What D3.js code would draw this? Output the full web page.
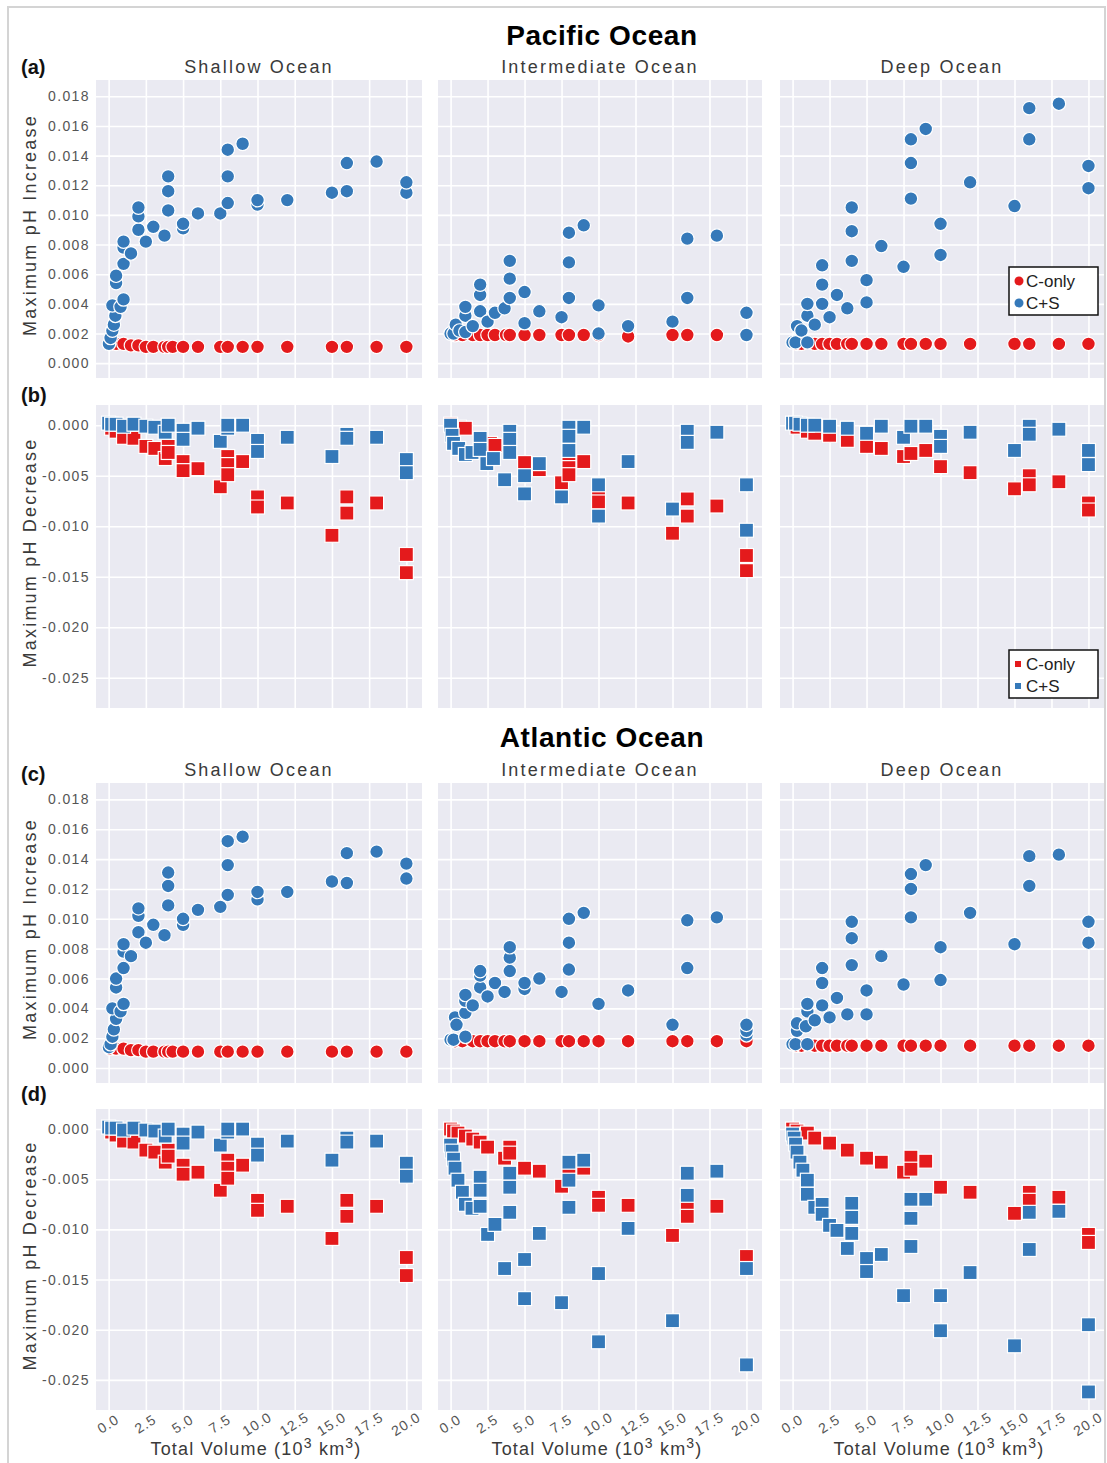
<!DOCTYPE html>
<html>
<head>
<meta charset="utf-8">
<script src="https://cdn.jsdelivr.net/npm/d3@7"></script>
<style>
  body { margin: 0; background: #fff; }
  text { font-family: "Liberation Sans", Arial, sans-serif; }
</style>
</head>
<body>
<svg id="chart" width="1107" height="1463"></svg>
<script>
// ---- data: [total volume (10^3 km^3), max pH change] ----
// Pacific, maximum pH increase
var pacShallowUpCS = [[0.02,0.0013],[0.13,0.0017],[0.25,0.0022],[0.35,0.0026],[0.45,0.0032],[0.25,0.0039],[0.8,0.0038],[1,0.0043],[0.5,0.0054],[0.5,0.0059],[1,0.0067],[1,0.0078],[1,0.0082],[1.5,0.0074],[2,0.0090],[2,0.0099],[2,0.0105],[2.5,0.0082],[3,0.0092],[3.75,0.0086],[4,0.0103],[4,0.0116],[4,0.0126],[5,0.0091],[5,0.0094],[6,0.0101],[7.5,0.0101],[8,0.0108],[8,0.0126],[8,0.0144],[9,0.0148],[10,0.0107],[10,0.0110],[12,0.0110],[15,0.0115],[16,0.0116],[16,0.0135],[18,0.0136],[20,0.0115],[20,0.0122]];
var pacShallowUpC = [[0.1,0.0013],[0.5,0.0013],[1,0.0013],[1.5,0.0012],[2,0.0012],[2.5,0.0011],[3,0.0011],[3.75,0.0011],[4,0.0011],[4.3,0.0011],[5,0.0011],[6,0.0011],[7.5,0.0011],[8,0.0011],[9,0.0011],[10,0.0011],[12,0.0011],[15,0.0011],[16,0.0011],[18,0.0011],[20,0.0011]];
var pacMidUpCS = [[0.0,0.0020],[0.2,0.0020],[0.35,0.0026],[0.6,0.0022],[1,0.0021],[1,0.0032],[1,0.0038],[1.5,0.0025],[2,0.0035],[2,0.0046],[2,0.0053],[2.5,0.0028],[3,0.0034],[3.65,0.0037],[4,0.0044],[4,0.0057],[4,0.0069],[5,0.0027],[5,0.0048],[6,0.0035],[7.5,0.0031],[8,0.0044],[8,0.0068],[8,0.0088],[9,0.0093],[10,0.0020],[10,0.0039],[12,0.0025],[15,0.0028],[16,0.0044],[16,0.0084],[18,0.0086],[20,0.0019],[20,0.0034]];
var pacMidUpC = [[0.3,0.0019],[0.8,0.0019],[1.5,0.0019],[2,0.0019],[2.5,0.0019],[3,0.0019],[3.75,0.0019],[4,0.0019],[5,0.0019],[6,0.0019],[7.5,0.0019],[8,0.0019],[9,0.0019],[10,0.0019],[12,0.0018],[15,0.0019],[16,0.0019],[18,0.0019],[20,0.0019]];
var pacDeepUpCS = [[0.0,0.0014],[0.2,0.0014],[0.3,0.0025],[0.6,0.0022],[1,0.0014],[1,0.0032],[1,0.0040],[1.5,0.0026],[2,0.0040],[2,0.0053],[2,0.0066],[2.5,0.0031],[3,0.0046],[3.7,0.0037],[4,0.0069],[4,0.0089],[4,0.0105],[5,0.0041],[5,0.0056],[6,0.0079],[7.5,0.0065],[8,0.0111],[8,0.0135],[8,0.0151],[9,0.0158],[10,0.0073],[10,0.0094],[12,0.0122],[15,0.0106],[16,0.0151],[16,0.0172],[18,0.0175],[20,0.0118],[20,0.0133]];
var pacDeepUpC = [[0.3,0.0013],[0.6,0.0013],[1.5,0.0013],[2,0.0013],[2.5,0.0013],[3,0.0013],[3.7,0.0013],[4,0.0013],[5,0.0013],[6,0.0013],[7.5,0.0013],[8,0.0013],[9,0.0013],[10,0.0013],[12,0.0013],[15,0.0013],[16,0.0013],[18,0.0013],[20,0.0013]];

// Pacific, maximum pH decrease
var pacShallowDownCS = [[0.0,0.0002],[0.2,0.0001],[0.5,0.0001],[1,-0.0001],[1.7,0.0001],[2.5,-0.0001],[3.1,-0.0002],[3.8,-0.0007],[4,0.0000],[5,-0.0005],[5,-0.0014],[6,-0.0003],[7.5,-0.0016],[8,-0.0003],[8,0.0000],[9,0.0000],[10,-0.0015],[10,-0.0026],[12,-0.0012],[15,-0.0031],[16,-0.0009],[16,-0.0013],[18,-0.0012],[20,-0.0034],[20,-0.0047]];
var pacShallowDownC = [[0.2,-0.0003],[0.5,-0.0006],[1,-0.0012],[1.7,-0.0013],[2.5,-0.0021],[3.1,-0.0023],[3.8,-0.0033],[4,-0.0021],[4,-0.0027],[5,-0.0036],[5,-0.0045],[6,-0.0043],[7.5,-0.0061],[8,-0.0031],[8,-0.0039],[8,-0.0049],[9,-0.0036],[10,-0.0071],[10,-0.0081],[12,-0.0077],[15,-0.0109],[16,-0.0071],[16,-0.0087],[18,-0.0077],[20,-0.0128],[20,-0.0146]];
var pacMidDownCS = [[0.0,0.0000],[0.1,-0.0010],[0.2,-0.0018],[0.55,-0.0023],[1,-0.0029],[1.45,-0.0027],[2,-0.0013],[2,-0.0024],[2.45,-0.0038],[2.9,-0.0033],[3.65,-0.0054],[4,-0.0006],[4,-0.0014],[4,-0.0027],[5,-0.0050],[5,-0.0068],[6,-0.0038],[7.5,-0.0071],[8,-0.0002],[8,-0.0011],[8,-0.0025],[9,-0.0002],[10,-0.0059],[10,-0.0090],[12,-0.0036],[15,-0.0083],[16,-0.0006],[16,-0.0017],[18,-0.0007],[20,-0.0059],[20,-0.0104]];
var pacMidDownC = [[0.0,0.0001],[0.6,-0.0002],[1,-0.0003],[2.7,-0.0018],[3,-0.0020],[5,-0.0037],[6,-0.0044],[7.5,-0.0057],[8,-0.0036],[8,-0.0042],[8,-0.0049],[9,-0.0036],[10,-0.0070],[10,-0.0076],[12,-0.0077],[15,-0.0107],[16,-0.0073],[16,-0.0090],[18,-0.0080],[20,-0.0129],[20,-0.0144]];
var pacDeepDownCS = [[0.0,0.0002],[0.2,0.0002],[0.5,0.0001],[1,0.0000],[1.5,0.0000],[2.5,-0.0001],[3.7,-0.0003],[5,-0.0008],[6,-0.0001],[7.5,-0.0012],[8,-0.0001],[9,-0.0001],[10,-0.0011],[10,-0.0021],[12,-0.0007],[15,-0.0025],[16,-0.0001],[16,-0.0009],[18,-0.0004],[20,-0.0025],[20,-0.0039]];
var pacDeepDownC = [[0.3,-0.0002],[1,-0.0006],[1.5,-0.0008],[2.5,-0.0010],[3.7,-0.0015],[5,-0.0021],[6,-0.0023],[7.5,-0.0031],[8,-0.0028],[9,-0.0025],[10,-0.0041],[12,-0.0047],[15,-0.0063],[16,-0.0050],[16,-0.0059],[18,-0.0056],[20,-0.0077],[20,-0.0084]];

// Atlantic, maximum pH increase
var atlShallowUpCS = [[0.02,0.0014],[0.13,0.0016],[0.25,0.0021],[0.35,0.0026],[0.5,0.0033],[0.25,0.0040],[0.8,0.0038],[1,0.0043],[0.5,0.0054],[0.5,0.0060],[1,0.0067],[1,0.0078],[1,0.0083],[1.5,0.0075],[2,0.0091],[2,0.0102],[2,0.0107],[2.5,0.0084],[3,0.0096],[3.75,0.0089],[4,0.0109],[4,0.0122],[4,0.0131],[5,0.0096],[5,0.0100],[6,0.0106],[7.5,0.0108],[8,0.0116],[8,0.0136],[8,0.0152],[9,0.0155],[10,0.0113],[10,0.0118],[12,0.0118],[15,0.0125],[16,0.0124],[16,0.0144],[18,0.0145],[20,0.0127],[20,0.0137]];
var atlShallowUpC = [[0.1,0.0013],[0.5,0.0013],[1,0.0013],[1.5,0.0012],[2,0.0012],[2.5,0.0011],[3,0.0011],[3.75,0.0011],[4,0.0011],[4.3,0.0011],[5,0.0011],[6,0.0011],[7.5,0.0011],[8,0.0011],[9,0.0011],[10,0.0011],[12,0.0011],[15,0.0011],[16,0.0011],[18,0.0011],[20,0.0011]];
var atlMidUpCS = [[0.0,0.0019],[0.2,0.0019],[0.3,0.0034],[0.4,0.0029],[1,0.0021],[1,0.0037],[1,0.0045],[1,0.0049],[1.5,0.0042],[2,0.0054],[2,0.0062],[2,0.0065],[2.5,0.0048],[3,0.0057],[3.65,0.0051],[4,0.0065],[4,0.0074],[4,0.0081],[5,0.0053],[5,0.0057],[6,0.0060],[7.5,0.0051],[8,0.0066],[8,0.0084],[8,0.0100],[9,0.0104],[10,0.0043],[12,0.0052],[15,0.0029],[16,0.0067],[16,0.0099],[18,0.0101],[20,0.0022],[20,0.0025],[20,0.0029]];
var atlMidUpC = [[0.3,0.0018],[0.8,0.0018],[1.5,0.0018],[2,0.0018],[2.5,0.0018],[3,0.0018],[3.65,0.0018],[4,0.0018],[5,0.0018],[6,0.0018],[7.5,0.0018],[8,0.0018],[9,0.0018],[10,0.0018],[12,0.0018],[15,0.0018],[16,0.0018],[18,0.0018],[20,0.0018]];
var atlDeepUpCS = [[0.0,0.0016],[0.2,0.0016],[0.3,0.0025],[0.3,0.0030],[0.9,0.0028],[1,0.0016],[1,0.0038],[1,0.0043],[1.5,0.0032],[2,0.0042],[2,0.0057],[2,0.0067],[2.5,0.0034],[3,0.0047],[3.7,0.0036],[4,0.0069],[4,0.0087],[4,0.0098],[5,0.0036],[5,0.0052],[6,0.0075],[7.5,0.0056],[8,0.0101],[8,0.0120],[8,0.0130],[9,0.0136],[10,0.0059],[10,0.0081],[12,0.0104],[15,0.0083],[16,0.0122],[16,0.0142],[18,0.0143],[20,0.0084],[20,0.0098]];
var atlDeepUpC = [[0.3,0.0015],[0.6,0.0015],[1.5,0.0015],[2,0.0015],[2.5,0.0015],[3,0.0015],[3.7,0.0015],[4,0.0015],[5,0.0015],[6,0.0015],[7.5,0.0015],[8,0.0015],[9,0.0015],[10,0.0015],[12,0.0015],[15,0.0015],[16,0.0015],[18,0.0015],[20,0.0015]];

// Atlantic, maximum pH decrease
var atlShallowDownCS = pacShallowDownCS;   // shallow panels match the Pacific ones
var atlShallowDownC = pacShallowDownC;
var atlMidDownCS = [[0.0,-0.0016],[0.1,-0.0022],[0.2,-0.0030],[0.3,-0.0039],[0.5,-0.0051],[0.8,-0.0063],[1,-0.0075],[1.45,-0.0079],[2,-0.0048],[2,-0.0061],[2,-0.0077],[2.5,-0.0105],[3,-0.0095],[3.65,-0.0139],[4,-0.0044],[4,-0.0058],[4,-0.0083],[5,-0.0130],[5,-0.0169],[6,-0.0104],[7.5,-0.0173],[8,-0.0033],[8,-0.0051],[8,-0.0078],[9,-0.0031],[10,-0.0144],[10,-0.0212],[12,-0.0099],[15,-0.0191],[16,-0.0044],[16,-0.0066],[18,-0.0042],[20,-0.0139],[20,-0.0235]];
var atlMidDownC = [[0.0,0.0000],[0.2,-0.0002],[0.5,-0.0004],[1,-0.0007],[1.5,-0.0010],[2,-0.0013],[2.5,-0.0018],[3.65,-0.0029],[4,-0.0018],[4,-0.0024],[5,-0.0039],[6,-0.0042],[7.5,-0.0057],[8,-0.0039],[9,-0.0039],[10,-0.0068],[10,-0.0076],[12,-0.0076],[15,-0.0106],[16,-0.0077],[16,-0.0087],[18,-0.0077],[20,-0.0127]];
var atlDeepDownCS = [[0.0,-0.0005],[0.1,-0.0009],[0.2,-0.0015],[0.3,-0.0023],[0.5,-0.0033],[0.7,-0.0041],[1,-0.0051],[1,-0.0065],[1.5,-0.0078],[2,-0.0075],[2,-0.0085],[2.5,-0.0096],[3,-0.0101],[3.7,-0.0119],[4,-0.0074],[4,-0.0088],[4,-0.0104],[5,-0.0129],[5,-0.0142],[6,-0.0125],[7.5,-0.0166],[8,-0.0070],[8,-0.0089],[8,-0.0117],[9,-0.0070],[10,-0.0166],[10,-0.0201],[12,-0.0143],[15,-0.0216],[16,-0.0083],[16,-0.0120],[18,-0.0082],[20,-0.0195],[20,-0.0262]];
var atlDeepDownC = [[0.0,0.0000],[0.3,-0.0002],[1,-0.0004],[1.5,-0.0009],[2.5,-0.0014],[3.7,-0.0021],[5,-0.0029],[6,-0.0033],[7.5,-0.0043],[8,-0.0028],[8,-0.0040],[9,-0.0032],[10,-0.0058],[12,-0.0063],[15,-0.0084],[16,-0.0063],[16,-0.0071],[18,-0.0068],[20,-0.0105],[20,-0.0113]];

// ---- labels and ticks ----
var oceanNames = ['Pacific Ocean', 'Atlantic Ocean'];
var depthNames = ['Shallow Ocean', 'Intermediate Ocean', 'Deep Ocean'];
var seriesNames = ['C-only', 'C+S'];
var xTickVals = [0, 2.5, 5, 7.5, 10, 12.5, 15, 17.5, 20];
var xTickLabels = ['0.0', '2.5', '5.0', '7.5', '10.0', '12.5', '15.0', '17.5', '20.0'];
var upTickVals = [0, 0.002, 0.004, 0.006, 0.008, 0.010, 0.012, 0.014, 0.016, 0.018];
var upTickLabels = ['0.000', '0.002', '0.004', '0.006', '0.008', '0.010', '0.012', '0.014', '0.016', '0.018'];
var downTickVals = [0, -0.005, -0.010, -0.015, -0.020, -0.025];
var downTickLabels = ['0.000', '-0.005', '-0.010', '-0.015', '-0.020', '-0.025'];

var BLUE = '#3579b9', RED = '#e41a1c', BG = '#eaeaf2', INK = '#3a3a3a';

var svg = d3.select('#chart');

// outer frame
svg.append('rect')
  .attr('x', 8).attr('y', 7).attr('width', 1097).attr('height', 1475)
  .attr('fill', 'none').attr('stroke', '#d4d4d4').attr('stroke-width', 2);

var cols = [{l: 96, r: 422}, {l: 438, r: 762}, {l: 780, r: 1104}];
var rows = [
  {t: 80, b: 378, up: true, tag: '(a)', tagY: 74},
  {t: 405, b: 708, up: false, tag: '(b)', tagY: 402},
  {t: 783, b: 1083, up: true, tag: '(c)', tagY: 781},
  {t: 1109, b: 1410, up: false, tag: '(d)', tagY: 1101}
];

var panels = [
  [pacShallowUpC, pacShallowUpCS], [pacMidUpC, pacMidUpCS], [pacDeepUpC, pacDeepUpCS],
  [pacShallowDownC, pacShallowDownCS], [pacMidDownC, pacMidDownCS], [pacDeepDownC, pacDeepDownCS],
  [atlShallowUpC, atlShallowUpCS], [atlMidUpC, atlMidUpCS], [atlDeepUpC, atlDeepUpCS],
  [atlShallowDownC, atlShallowDownCS], [atlMidDownC, atlMidDownCS], [atlDeepDownC, atlDeepDownCS]
];

function xScale(ci) {
  return d3.scaleLinear().domain([-0.85, 21.05]).range([cols[ci].l, cols[ci].r]);
}
function yScale(ri) {
  var r = rows[ri];
  return d3.scaleLinear().domain(r.up ? [-0.001, 0.0191] : [-0.028, 0.002]).range([r.b, r.t]);
}

// big titles
[{name: oceanNames[0], y: 45}, {name: oceanNames[1], y: 747}].forEach(function(d) {
  svg.append('text')
    .attr('x', 602).attr('y', d.y)
    .attr('text-anchor', 'middle')
    .style('font-size', '28px').style('font-weight', 'bold').style('letter-spacing', '0.6px')
    .attr('fill', '#000')
    .text(d.name);
});

rows.forEach(function(row, ri) {
  var y = yScale(ri);

  // panel tag
  svg.append('text')
    .attr('x', 21).attr('y', row.tagY)
    .style('font-size', '20px').style('font-weight', 'bold')
    .attr('fill', '#111')
    .text(row.tag);

  // y axis title
  svg.append('text')
    .attr('transform', 'translate(36,' + ((row.t + row.b) / 2 - 4) + ') rotate(-90)')
    .attr('text-anchor', 'middle')
    .style('font-size', '18px').style('letter-spacing', '2.2px')
    .attr('fill', INK)
    .text(row.up ? 'Maximum pH Increase' : 'Maximum pH Decrease');

  cols.forEach(function(col, ci) {
    var x = xScale(ci);
    var g = svg.append('g');
    var pair = panels[ri * 3 + ci];

    g.append('rect')
      .attr('x', col.l).attr('y', row.t)
      .attr('width', col.r - col.l).attr('height', row.b - row.t)
      .attr('fill', BG);

    // grid from axes
    var gx = g.append('g')
      .attr('transform', 'translate(0,' + row.b + ')')
      .call(d3.axisBottom(x).tickValues(xTickVals).tickSize(-(row.b - row.t)).tickFormat(''));
    var gy = g.append('g')
      .attr('transform', 'translate(' + col.l + ',0)')
      .call(d3.axisLeft(y).tickValues(row.up ? upTickVals : downTickVals).tickSize(-(col.r - col.l)).tickFormat(''));
    [gx, gy].forEach(function(a) {
      a.select('.domain').remove();
      a.selectAll('line').attr('stroke', '#fff').attr('stroke-width', 1.6);
    });

    // sub titles on the increase rows
    if (row.up) {
      svg.append('text')
        .attr('x', (col.l + col.r) / 2).attr('y', row.t - 7)
        .attr('text-anchor', 'middle')
        .style('font-size', '18px').style('letter-spacing', '2.2px')
        .attr('fill', INK)
        .text(depthNames[ci]);
    }

    // y tick labels on first column
    if (ci === 0) {
      var labels = row.up ? upTickLabels : downTickLabels;
      var ay = svg.append('g')
        .attr('transform', 'translate(' + col.l + ',0)')
        .call(d3.axisLeft(y).tickValues(row.up ? upTickVals : downTickVals)
          .tickSize(0).tickPadding(6)
          .tickFormat(function(d, i) { return labels[i]; }));
      ay.select('.domain').remove();
      ay.selectAll('text')
        .style('font-size', '14px').style('letter-spacing', '1.4px')
        .style('font-family', '"Liberation Sans", Arial, sans-serif')
        .attr('fill', '#555');
    }

    // x tick labels and title on last row
    if (ri === 3) {
      var ax = svg.append('g')
        .attr('transform', 'translate(0,' + row.b + ')')
        .call(d3.axisBottom(x).tickValues(xTickVals).tickSize(0)
          .tickFormat(function(d, i) { return xTickLabels[i]; }));
      ax.select('.domain').remove();
      ax.selectAll('text')
        .attr('y', 0).attr('dy', '0.35em')
        .attr('transform', 'translate(-1,14) rotate(-32)')
        .attr('text-anchor', 'middle')
        .style('font-size', '14px').style('letter-spacing', '1px')
        .style('font-family', '"Liberation Sans", Arial, sans-serif')
        .attr('fill', '#555');

      var t = svg.append('text')
        .attr('x', (col.l + col.r) / 2 - 3).attr('y', 1455)
        .attr('text-anchor', 'middle')
        .style('font-size', '18px').style('letter-spacing', '1.2px')
        .attr('fill', INK);
      t.append('tspan').text('Total Volume (10');
      t.append('tspan').attr('dy', -7).style('font-size', '14px').text('3');
      t.append('tspan').attr('dy', 7).text(' km');
      t.append('tspan').attr('dy', -7).style('font-size', '14px').text('3');
      t.append('tspan').attr('dy', 7).text(')');
    }

    // markers: C-only first, C+S on top
    var marks = g.append('g');
    [{data: pair[0], color: RED}, {data: pair[1], color: BLUE}].forEach(function(s) {
      if (row.up) {
        marks.selectAll(null).data(s.data).enter().append('circle')
          .attr('cx', function(d) { return x(d[0]); })
          .attr('cy', function(d) { return y(d[1]); })
          .attr('r', 6.8)
          .attr('fill', s.color).attr('stroke', '#fff').attr('stroke-width', 1.2);
      } else {
        marks.selectAll(null).data(s.data).enter().append('rect')
          .attr('x', function(d) { return x(d[0]) - 7; })
          .attr('y', function(d) { return y(d[1]) - 7; })
          .attr('width', 14).attr('height', 14)
          .attr('fill', s.color).attr('stroke', '#fff').attr('stroke-width', 1.2);
      }
    });
  });
});

// legends (Pacific deep panels)
function legend(top, shape) {
  var lg = svg.append('g').attr('transform', 'translate(1009,' + top + ')');
  lg.append('rect').attr('width', 89).attr('height', 48)
    .attr('fill', '#fff').attr('stroke', '#111').attr('stroke-width', 1.5);
  [RED, BLUE].forEach(function(c, i) {
    var cy = 14 + i * 22;
    if (shape === 'circle') {
      lg.append('circle').attr('cx', 10).attr('cy', cy).attr('r', 4.5).attr('fill', c);
    } else {
      lg.append('rect').attr('x', 6).attr('y', cy - 3).attr('width', 6).attr('height', 6).attr('fill', c);
    }
    lg.append('text').attr('x', 17).attr('y', cy + 6)
      .style('font-size', '17px').attr('fill', '#222')
      .text(seriesNames[i]);
  });
}
legend(267, 'circle');
legend(650, 'square');
</script>
</body>
</html>
